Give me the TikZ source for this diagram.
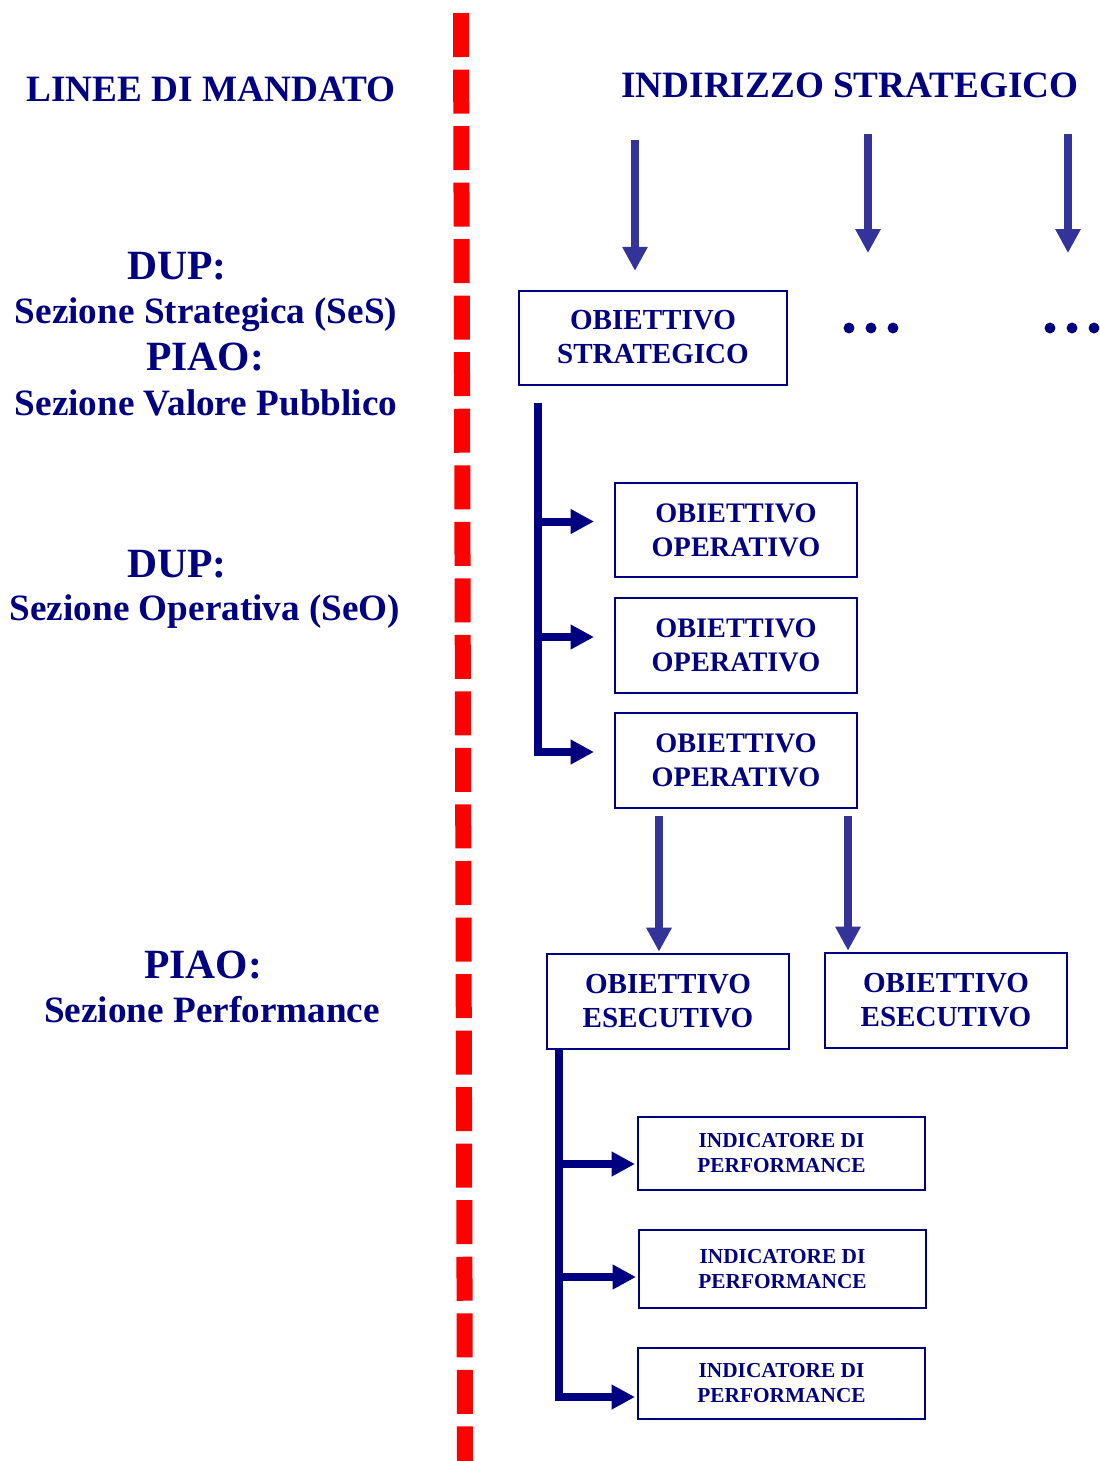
\documentclass[tikz,border=0pt]{standalone}
\usepackage{fontspec}
\setmainfont{Liberation Serif}
\usetikzlibrary{arrows.meta,calc}
\definecolor{navyblue}{RGB}{0,0,128}
\definecolor{arrowblue}{RGB}{51,51,153}
\definecolor{dashred}{RGB}{255,0,0}

\begin{document}
\begin{tikzpicture}[x=0.75pt, y=-0.75pt, line join=miter,
  sidetxt/.style={text=navyblue, anchor=base, inner sep=0pt, font=\bfseries\fontsize{27.9}{30}\selectfont},
  bigtxt/.style={sidetxt, font=\bfseries\fontsize{31.2}{34}\selectfont},
  obj/.style={draw=navyblue, line width=1.5pt, text=navyblue, align=center, inner sep=0pt,
    font=\bfseries\fontsize{21.8}{25.5}\selectfont},
  opbox/.style={obj, minimum width=181.5pt, minimum height=71pt, font=\bfseries\fontsize{21.2}{25.5}\selectfont},
  indbox/.style={obj, minimum width=215.25pt, font=\bfseries\fontsize{16}{18.75}\selectfont},
  downarrow/.style={draw=arrowblue, line width=5.5pt, -{Triangle[length=18pt,width=18pt]}},
  brackarrow/.style={draw=navyblue, line width=6pt, -{Triangle[length=17.5pt,width=17.5pt]}}]

\useasboundingbox (0,0) rectangle (1100,1461);

% Dividing line
\draw[dashred, line width=12pt, dash pattern=on 33pt off 9.4pt] (461,13) -- (465,1461);

% Headings
\node[sidetxt] (mandato) at (211,101) {LINEE DI MANDATO};
\node[sidetxt] (indirizzo) at (850,97) {INDIRIZZO STRATEGICO};

% Left column
\node[bigtxt] (dup1) at (177,279) {DUP:};
\node[sidetxt] (ses) at (206,323) {Sezione Strategica (SeS)};
\node[bigtxt] (piao1) at (205,370) {PIAO:};
\node[sidetxt] (valore) at (206,415) {Sezione Valore Pubblico};
\node[bigtxt] (dup2) at (177,577) {DUP:};
\node[sidetxt] (seo) at (205,620) {Sezione Operativa (SeO)};
\node[bigtxt] (piao2) at (203,978) {PIAO:};
\node[sidetxt] (perf) at (212,1022) {Sezione Performance};

% Objectives
\node[obj, minimum width=201pt, minimum height=70.5pt] (strat) at (653,337.5) {OBIETTIVO\\STRATEGICO};
\node[opbox] (op1) at (736,530) {OBIETTIVO\\OPERATIVO};
\node[opbox] (op2) at (736,645.5) {OBIETTIVO\\OPERATIVO};
\node[opbox] (op3) at (736,760.5) {OBIETTIVO\\OPERATIVO};
\node[obj, minimum width=181.5pt, minimum height=71.25pt] (ese1) at (668,1001.5) {OBIETTIVO\\ESECUTIVO};
\node[obj, minimum width=181.5pt, minimum height=71.25pt] (ese2) at (946,1000.5) {OBIETTIVO\\ESECUTIVO};

% Indicators
\node[indbox, minimum height=55pt] (ind1) at (781.5,1153.5) {INDICATORE DI\\PERFORMANCE};
\node[indbox, minimum height=58.5pt] (ind2) at (782.5,1269) {INDICATORE DI\\PERFORMANCE};
\node[indbox, minimum height=53pt] (ind3) at (781.5,1383.5) {INDICATORE DI\\PERFORMANCE};

% Arrows from the strategic direction
\coordinate (s1) at (635,140);
\coordinate (s2) at (868,134);
\coordinate (s3) at (1068,134);
\coordinate (dots2) at (871,328);
\coordinate (dots3) at (1072,328);
\draw[downarrow, shorten >=14pt] (s1) -- (s1 |- strat.north);
\draw[downarrow] (s2) -- (s2 |- 0,253);
\draw[downarrow] (s3) -- (s3 |- 0,253);
\foreach \c in {dots2,dots3}
  \foreach \dx in {-22,0,22}
    \fill[navyblue] ($(\c)+(\dx,0)$) circle (4.1pt);

% Strategic -> operative
\coordinate (b1) at (538,403);
\foreach \n in {op1,op2,op3}
  \coordinate (\n in) at ($(\n.west)+(0,-8.5)$);
\draw[brackarrow, shorten >=15pt] (b1) -- (b1 |- op3in) -- (op3in);
\draw[brackarrow, shorten >=15pt] (b1 |- op1in) -- (op1in);
\draw[brackarrow, shorten >=15pt] (b1 |- op2in) -- (op2in);

% Operative -> executive
\coordinate (o1) at (659,816);
\coordinate (o2) at (848,816);
\draw[downarrow, shorten >=1pt] (o1) -- (o1 |- ese1.north);
\draw[downarrow, shorten >=1pt] (o2) -- (o2 |- ese2.north);

% Executive -> indicators
\coordinate (b2) at (559,1049);
\coordinate (ind1in) at ($(ind1.west)+(0,10.5)$);
\coordinate (ind2in) at ($(ind2.west)+(0,8)$);
\coordinate (ind3in) at ($(ind3.west)+(0,13.5)$);
\draw[brackarrow, shorten >=1.5pt] (b2) -- (b2 |- ind3in) -- (ind3in);
\draw[brackarrow, shorten >=1.5pt] (b2 |- ind1in) -- (ind1in);
\draw[brackarrow, shorten >=1.5pt] (b2 |- ind2in) -- (ind2in);

\end{tikzpicture}
\end{document}
